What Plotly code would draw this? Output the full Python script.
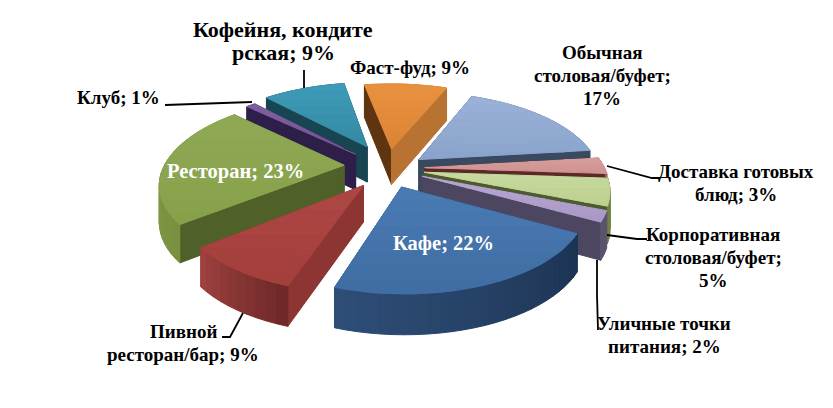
import math
import plotly.graph_objects as go

# ---- data ----
categories = ["Обычная столовая/буфет", "Доставка готовых блюд", "Корпоративная столовая/буфет",
              "Уличные точки питания", "Кафе", "Пивной ресторан/бар", "Ресторан", "Клуб",
              "Кофейня, кондитерская", "Фаст-фуд"]
values = [17, 3, 5, 2, 22, 9, 23, 1, 9, 9]
pull = [0.17, 0.17, 0.17, 0.17, 0.2, 0.26, 0.25, 0.24, 0.27, 0.2]

# ---- style ----
radius = [1, 1, 1, 1, 0.97, 0.96, 1, 1, 1, 1]
nudge_x = [3, 2, 2, 2, -4, -1, -3, -7, -4, -4]
nudge_y = [0, 0, 1, 2, 3, -1, -2, 0, -2, -3]
top_hi = ["#9ab2d8", "#d8a09e", "#c8daa0", "#b8a8d2", "#4a7bb3", "#ad4744", "#8fa955", "#7f5fa3", "#3d9cb8", "#e8913f"]
top_lo = ["#8aa3cc", "#cf9290", "#bcd08e", "#a998c6", "#3f6da3", "#a33f3c", "#86a04a", "#74548f", "#3689a3", "#dc8435"]
wall_a = ["#39495f", "#5b2a28", "#4c5a2c", "#4c4660", "#1e3654", "#8c3533", "#4f6029", "#2e1f4a", "#184552", "#5e3510"]
wall_b = ["#39495f", "#5b2a28", "#4c5a2c", "#4c4660", "#1e3654", "#8c3533", "#4f6029", "#2e1f4a", "#184552", "#b87232"]
arc_a = ["#5f7390", "#a06060", "#6f7f45", "#5c5470", "#1c3352", "#6e2827", "#78913f", "#4a3570", "#1f5666", "#b87232"]
arc_b = ["#5f7390", "#a06060", "#6f7f45", "#5c5470", "#2e4e78", "#a04240", "#8aa44f", "#4a3570", "#1f5666", "#b87232"]

labels = ["Обычная<br>столовая/буфет;<br>17%", "Доставка готовых<br>блюд; 3%",
          "Корпоративная<br>столовая/буфет;<br>5%", "Уличные точки<br>питания; 2%", "Кафе; 22%",
          "Пивной<br>ресторан/бар; 9%", "Ресторан; 23%", "Клуб; 1%",
          "Кофейня, кондите<br>рская; 9%", "Фаст-фуд; 9%"]
label_x = [602, 736, 713, 664, 443, 183, 235, 118, 283, 410]
label_y = [75, 183, 257, 335, 243, 343, 171, 97, 41, 67]
label_col = ["black", "black", "black", "black", "white", "black", "white", "black", "black", "black"]
label_size = [19, 19, 19, 19, 20.5, 19, 20.5, 19, 22, 19]
leaders = [
    ([304, 304], [70, 88]),
    ([165, 230, 252], [105, 103, 102]),
    ([222, 230, 243], [337, 337, 313]),
    ([607, 652, 660], [166, 178, 178]),
    ([607, 637, 647], [235, 239, 239]),
    ([597, 597, 598], [260, 295, 330]),
]

START = 22.0
CX, CY, A, B, P, H = 392, 168, 180, 83, 0.19, 36
LINE_STEP = 23


def hex2rgb(c):
    return [int(c[i:i + 2], 16) for i in (1, 3, 5)]


def mix(a, b, t):
    ca, cb = hex2rgb(a), hex2rgb(b)
    return "rgb(%d,%d,%d)" % tuple(round(x + (y - x) * t) for x, y in zip(ca, cb))


def proj(u, v, i):
    w = 1 + P * v
    return CX + A * u / w + nudge_x[i], CY - B * v / w + nudge_y[i], H / math.sqrt(w)


def clip(poly, ylim, keep_below):
    out = []
    n = len(poly)
    for i in range(n):
        p, q = poly[i], poly[(i + 1) % n]
        ip = (p[1] >= ylim) == keep_below
        iq = (q[1] >= ylim) == keep_below
        if ip:
            out.append(p)
        if ip != iq:
            t = (ylim - p[1]) / (q[1] - p[1])
            out.append((p[0] + (q[0] - p[0]) * t, ylim))
    return out


fig = go.Figure()


def add(poly, col):
    xs = [p[0] for p in poly] + [poly[0][0]]
    ys = [p[1] for p in poly] + [poly[0][1]]
    fig.add_trace(go.Scatter(x=xs, y=ys, mode="lines", fill="toself", fillcolor=col,
                             line=dict(color=col, width=1), hoverinfo="skip", showlegend=False))


total = sum(values)
slices = []
acc = 0.0
for i, val in enumerate(values):
    t0 = START + 360 * acc / total
    acc += val
    t1 = START + 360 * acc / total
    slices.append((i, t0, t1))
slices.sort(key=lambda s: -math.cos(math.radians((s[1] + s[2]) / 2)))

for i, t0, t1 in slices:
    bis = math.radians((t0 + t1) / 2)
    ox, oy = pull[i] * math.sin(bis), pull[i] * math.cos(bis)
    n = max(4, int((t1 - t0) / 3))
    ang = [math.radians(t0 + (t1 - t0) * k / n) for k in range(n + 1)]
    apex = proj(ox, oy, i)
    rim = [proj(ox + radius[i] * math.sin(a), oy + radius[i] * math.cos(a), i) for a in ang]
    faces = []
    faces.append((oy + math.cos(ang[0]) / 2,
                  [apex[:2], rim[0][:2], (rim[0][0], rim[0][1] + rim[0][2]), (apex[0], apex[1] + apex[2])],
                  mix(wall_a[i], wall_a[i], 0)))
    faces.append((oy + math.cos(ang[-1]) / 2,
                  [apex[:2], rim[-1][:2], (rim[-1][0], rim[-1][1] + rim[-1][2]), (apex[0], apex[1] + apex[2])],
                  mix(wall_b[i], wall_b[i], 0)))
    for k in range(n):
        a, b = rim[k], rim[k + 1]
        faces.append((oy + (math.cos(ang[k]) + math.cos(ang[k + 1])) / 2,
                      [a[:2], b[:2], (b[0], b[1] + b[2]), (a[0], a[1] + a[2])],
                      mix(arc_a[i], arc_b[i], (k + 0.5) / n)))
    faces.sort(key=lambda f: -f[0])
    for _, poly, col in faces:
        add(poly, col)
    top = [apex[:2]] + [r[:2] for r in rim]
    ymin, ymax = min(p[1] for p in top), max(p[1] for p in top)
    bands = 8
    for k in range(bands):
        y0 = ymin + (ymax - ymin) * k / bands
        y1 = ymin + (ymax - ymin) * (k + 1) / bands
        piece = clip(clip(top, y0, True), y1, False)
        if len(piece) >= 3:
            add(piece, mix(top_hi[i], top_lo[i], (k + 0.5) / bands))

for lx, ly in leaders:
    fig.add_trace(go.Scatter(x=lx, y=ly, mode="lines", line=dict(color="black", width=1.8),
                             hoverinfo="skip", showlegend=False))

for txt, x, y, c, s in zip(labels, label_x, label_y, label_col, label_size):
    lines = txt.split("<br>")
    for k, line in enumerate(lines):
        fig.add_annotation(x=x, y=y + (k - (len(lines) - 1) / 2) * LINE_STEP, text="<b>%s</b>" % line,
                           showarrow=False, xanchor="center", yanchor="middle", align="center",
                           font=dict(family="Liberation Serif", size=s, color=c))

fig.update_layout(width=833, height=408, margin=dict(l=0, r=0, t=0, b=0),
                  paper_bgcolor="white", plot_bgcolor="white", showlegend=False,
                  xaxis=dict(range=[0, 833], visible=False, fixedrange=True),
                  yaxis=dict(range=[408, 0], visible=False, fixedrange=True))
fig.write_html("out.html", config={"displayModeBar": False},
               post_script="document.body.style.margin='0';document.body.style.overflow='hidden';")
